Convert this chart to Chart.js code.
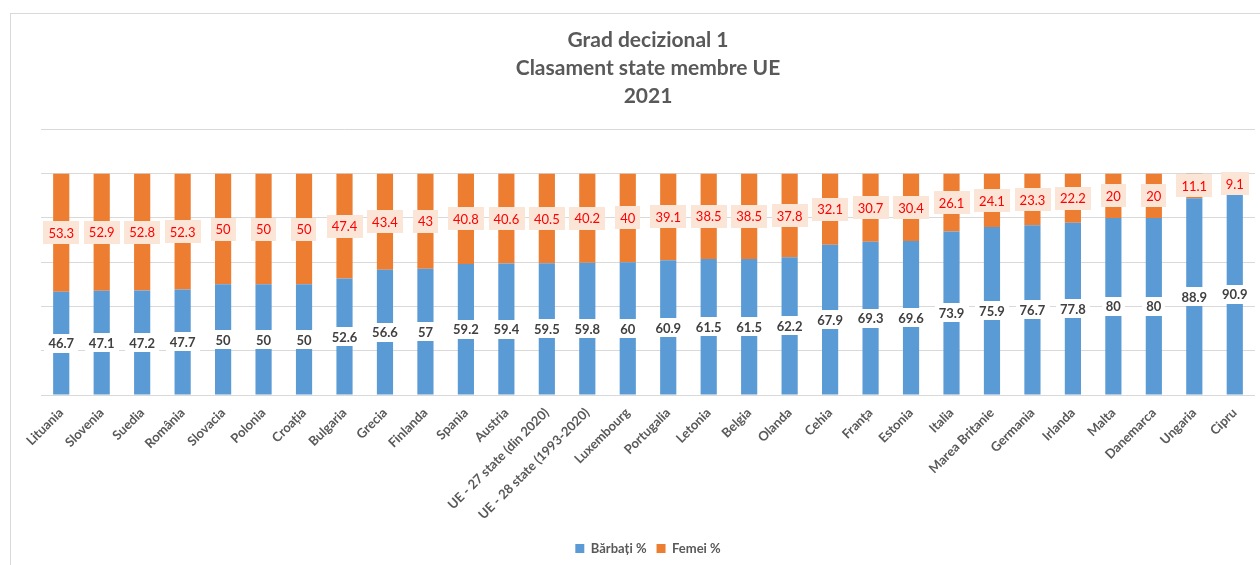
<!DOCTYPE html>
<html>
<head>
<meta charset="utf-8">
<script src="https://cdn.jsdelivr.net/npm/chart.js"></script>
<style>
  html, body { margin: 0; padding: 0; background: #fff; overflow: hidden; }
  #wrap { position: relative; width: 1260px; height: 565px; }
  #frame { position: absolute; left: 10px; top: 13px; right: -10px; bottom: -10px; border: 1px solid #d9d9d9; pointer-events: none; }
</style>
</head>
<body>
<div id="wrap">
  <canvas id="chart" width="1260" height="565"></canvas>
  <div id="frame"></div>
</div>
<script>
// Data
const categories = [
  'Lituania', 'Slovenia', 'Suedia', 'România', 'Slovacia', 'Polonia', 'Croația', 'Bulgaria',
  'Grecia', 'Finlanda', 'Spania', 'Austria', 'UE - 27 state (din 2020)', 'UE - 28 state (1993-2020)',
  'Luxembourg', 'Portugalia', 'Letonia', 'Belgia', 'Olanda', 'Cehia', 'Franța', 'Estonia',
  'Italia', 'Marea Britanie', 'Germania', 'Irlanda', 'Malta', 'Danemarca', 'Ungaria', 'Cipru'
];
const barbati = [46.7, 47.1, 47.2, 47.7, 50, 50, 50, 52.6, 56.6, 57, 59.2, 59.4, 59.5, 59.8, 60,
  60.9, 61.5, 61.5, 62.2, 67.9, 69.3, 69.6, 73.9, 75.9, 76.7, 77.8, 80, 80, 88.9, 90.9];
const femei = [53.3, 52.9, 52.8, 52.3, 50, 50, 50, 47.4, 43.4, 43, 40.8, 40.6, 40.5, 40.2, 40,
  39.1, 38.5, 38.5, 37.8, 32.1, 30.7, 30.4, 26.1, 24.1, 23.3, 22.2, 20, 20, 11.1, 9.1];
const seriesNames = ['Bărbați %', 'Femei %'];
const titleLines = ['Grad decizional 1', 'Clasament state membre UE', '2021'];

const FONT = 'Lato';
const GREY = '#595959';

// label look for each dataset (blue, orange)
const labelStyles = [
  { bg: '#ffffff', color: '#404040', font: `bold 13px ${FONT}`, padX: 4, h: 19 },
  { bg: '#fbe5d6', color: '#ff0000', font: `13px ${FONT}`, padX: 5, h: 23 }
];

// Draw value labels centred in each segment, with a filled box behind
const valueLabels = {
  id: 'valueLabels',
  afterDatasetsDraw(chart) {
    const ctx = chart.ctx;
    chart.data.datasets.forEach((ds, i) => {
      const st = labelStyles[i];
      const meta = chart.getDatasetMeta(i);
      ctx.save();
      ctx.font = st.font;
      ctx.textAlign = 'center';
      ctx.textBaseline = 'middle';
      meta.data.forEach((bar, j) => {
        const text = String(ds.data[j]);
        const x = bar.x;
        const y = (bar.y + bar.base) / 2;
        const w = ctx.measureText(text).width + st.padX * 2;
        ctx.fillStyle = st.bg;
        ctx.fillRect(Math.round(x - w / 2), Math.round(y - st.h / 2), Math.round(w), st.h);
        ctx.fillStyle = st.color;
        ctx.fillText(text, x, y + 1);
      });
      ctx.restore();
    });
  }
};

new Chart(document.getElementById('chart'), {
  type: 'bar',
  data: {
    labels: categories,
    datasets: [
      { label: seriesNames[0], data: barbati, backgroundColor: '#5b9bd5', categoryPercentage: 0.8, barPercentage: 0.5 },
      { label: seriesNames[1], data: femei, backgroundColor: '#ed7d31', categoryPercentage: 0.8, barPercentage: 0.5 }
    ]
  },
  options: {
    responsive: false,
    devicePixelRatio: 1,
    animation: false,
    layout: { padding: { left: 41, right: 5, bottom: 0 } },
    scales: {
      x: {
        stacked: true,
        grid: { display: false },
        border: { display: false },
        ticks: {
          autoSkip: false, maxRotation: 45, minRotation: 45, padding: 2,
          color: GREY, font: { family: FONT, size: 13, weight: 'bold' }
        },
        afterFit: (scale) => { scale.height = 137; }
      },
      y: {
        stacked: true,
        min: 0,
        max: 120,
        ticks: { display: false, stepSize: 20 },
        grid: { color: '#d9d9d9', drawTicks: false },
        border: { display: false }
      }
    },
    plugins: {
      title: {
        display: true,
        text: titleLines,
        color: GREY,
        font: { family: FONT, size: 21, weight: 'bold', lineHeight: 1.34 },
        padding: { top: 26, bottom: 19 }
      },
      legend: {
        position: 'bottom',
        labels: {
          boxWidth: 9, boxHeight: 9, padding: 10,
          color: GREY, font: { family: FONT, size: 13, weight: 'bold' }
        }
      },
      tooltip: { enabled: false }
    }
  },
  plugins: [valueLabels]
});
</script>
</body>
</html>
